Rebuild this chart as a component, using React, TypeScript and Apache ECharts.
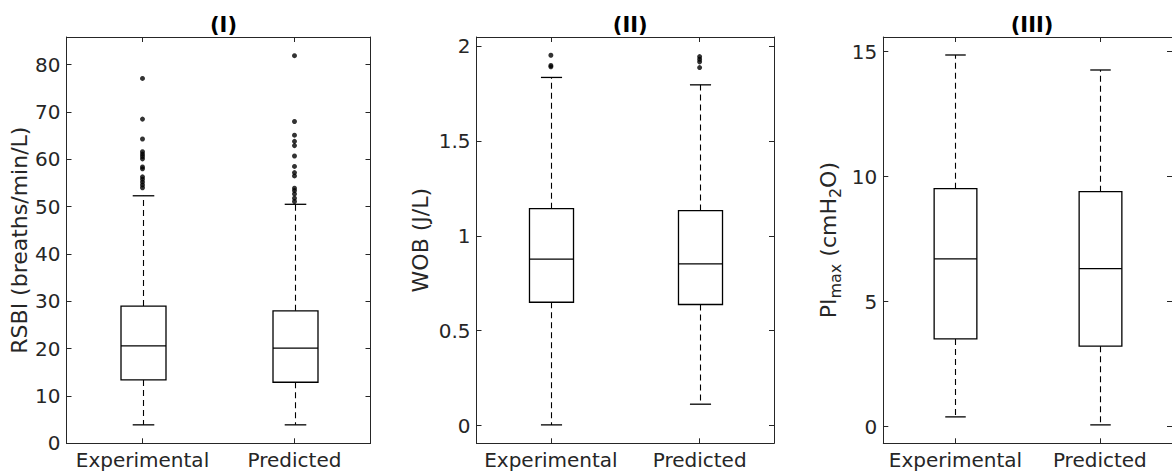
import React, { useEffect, useRef } from 'react';
import * as echarts from 'echarts';

const categories = ['Experimental', 'Predicted'];
const panelTitles = ['(I)', '(II)', '(III)'];

// each box: [lowerWhisker, Q1, median, Q3, upperWhisker]
const rsbiBoxes = [
  [3.9, 13.4, 20.6, 29.0, 52.3],
  [3.9, 12.9, 20.1, 28.0, 50.5],
];
const rsbiOutliersExp = [77.1, 68.5, 64.3, 61.6, 61.1, 60.6, 60.1, 58.4, 58.0, 56.3, 55.8, 55.2, 54.6, 54.0];
const rsbiOutliersPred = [81.9, 68.0, 65.1, 63.8, 62.9, 60.7, 58.5, 57.2, 56.5, 53.9, 53.4, 52.7, 51.8, 51.1];

const wobBoxes = [
  [0.004, 0.65, 0.877, 1.143, 1.834],
  [0.113, 0.638, 0.852, 1.133, 1.795],
];
const wobOutliersExp = [1.951, 1.897, 1.89];
const wobOutliersPred = [1.944, 1.93, 1.916, 1.886];

const pimaxBoxes = [
  [0.39, 3.51, 6.71, 9.52, 14.87],
  [0.07, 3.22, 6.32, 9.4, 14.27],
];
const pimaxOutliersExp: number[] = [];
const pimaxOutliersPred: number[] = [];

const rsbiTicks = [0, 10, 20, 30, 40, 50, 60, 70, 80];
const wobTicks = [0, 0.5, 1, 1.5, 2];
const pimaxTicks = [0, 5, 10, 15];

const FONT = 'DejaVu Sans';
const AX = '#262626';

const panels = [
  {
    boxes: rsbiBoxes, outExp: rsbiOutliersExp, outPred: rsbiOutliersPred, ticks: rsbiTicks,
    min: 0, max: 85.85, left: 66.5, width: 304, name: 'RSBI (breaths/min/L)', nameGap: 36,
  },
  {
    boxes: wobBoxes, outExp: wobOutliersExp, outPred: wobOutliersPred, ticks: wobTicks,
    min: -0.093, max: 2.047, left: 476.5, width: 297.5, name: 'WOB (J/L)', nameGap: 45,
  },
  {
    boxes: pimaxBoxes, outExp: pimaxOutliersExp, outPred: pimaxOutliersPred, ticks: pimaxTicks,
    min: -0.667, max: 15.59, left: 883.3, width: 291.5,
    name: '{a|PI}{s|max}{a| (cmH}{s|2}{a|O)}', nameGap: 40,
  },
];

const TOP = 37;
const HEIGHT = 406.3;

function renderBox(params: any, api: any) {
  const ci = api.value(0);
  const lo = api.coord([ci, api.value(1)]);
  const q1 = api.coord([ci, api.value(2)]);
  const med = api.coord([ci, api.value(3)]);
  const q3 = api.coord([ci, api.value(4)]);
  const hi = api.coord([ci, api.value(5)]);
  const band = api.size([1, 0])[0];
  const bw = band * 0.296;
  const cw = band * 0.142;
  const x = Math.round(lo[0]) + 0.5;
  const dash = { stroke: '#000', lineWidth: 1.1, lineDash: [6, 4] };
  const solid = { stroke: '#000', lineWidth: 1.3 };
  return {
    type: 'group',
    children: [
      { type: 'line', shape: { x1: x, y1: q3[1], x2: x, y2: hi[1] }, style: dash },
      { type: 'line', shape: { x1: x, y1: q1[1], x2: x, y2: lo[1] }, style: dash },
      { type: 'line', shape: { x1: x - cw / 2, y1: hi[1], x2: x + cw / 2, y2: hi[1] }, style: solid },
      { type: 'line', shape: { x1: x - cw / 2, y1: lo[1], x2: x + cw / 2, y2: lo[1] }, style: solid },
      {
        type: 'rect',
        shape: { x: x - bw / 2, y: q3[1], width: bw, height: q1[1] - q3[1] },
        style: { fill: 'none', stroke: '#000', lineWidth: 1.3 },
      },
      { type: 'line', shape: { x1: x - bw / 2, y1: med[1], x2: x + bw / 2, y2: med[1] }, style: solid },
    ],
  };
}

export default function App() {
  const ref = useRef<HTMLDivElement>(null);
  useEffect(() => {
    if (!ref.current) return;
    const chart = echarts.init(ref.current, null, { renderer: 'svg' });
    const grid: any[] = [];
    const xAxis: any[] = [];
    const yAxis: any[] = [];
    const series: any[] = [];
    const title: any[] = [];
    panels.forEach((p, i) => {
      grid.push({ left: p.left, top: TOP, width: p.width, height: HEIGHT, containLabel: false });
      title.push({
        text: panelTitles[i],
        left: p.left + p.width / 2 - (i === 2 ? 2 : 0),
        top: 9,
        textAlign: 'center',
        textStyle: { fontFamily: FONT, fontSize: 21, fontWeight: 'bold', color: '#000' },
      });
      const tickStyle = { lineStyle: { color: AX, width: 1 } };
      xAxis.push({
        type: 'category', gridIndex: i, data: categories, position: 'bottom', boundaryGap: true,
        axisLine: { show: true, onZero: false, lineStyle: { color: AX, width: 1 } },
        axisTick: { show: true, inside: true, alignWithLabel: true, length: 5, ...tickStyle },
        axisLabel: { color: AX, fontFamily: FONT, fontSize: 20, margin: 7, interval: 0, hideOverlap: false },
        splitLine: { show: false },
      });
      xAxis.push({
        type: 'category', gridIndex: i, data: categories, position: 'top', boundaryGap: true,
        axisLine: { show: true, onZero: false, lineStyle: { color: AX, width: 1 } },
        axisTick: { show: true, inside: true, alignWithLabel: true, length: 5, ...tickStyle },
        axisLabel: { show: false },
        splitLine: { show: false },
      });
      const rich = {
        a: { fontFamily: FONT, fontSize: 22, color: AX, lineHeight: 30, verticalAlign: 'middle' },
        s: { fontFamily: FONT, fontSize: 16, color: AX, lineHeight: 16, verticalAlign: 'bottom' },
      };
      yAxis.push({
        type: 'value', gridIndex: i, min: p.min, max: p.max, position: 'left',
        name: p.name, nameLocation: 'middle', nameGap: p.nameGap, nameRotate: 90,
        nameTextStyle: { fontFamily: FONT, fontSize: 22, color: AX, rich },
        axisLine: { show: true, onZero: false, lineStyle: { color: AX, width: 1 } },
        axisTick: { show: true, inside: true, length: 5, customValues: p.ticks, ...tickStyle },
        axisLabel: { color: AX, fontFamily: FONT, fontSize: 20, margin: 6, customValues: p.ticks },
        splitLine: { show: false },
      });
      yAxis.push({
        type: 'value', gridIndex: i, min: p.min, max: p.max, position: 'right',
        axisLine: { show: true, onZero: false, lineStyle: { color: AX, width: 1 } },
        axisTick: { show: true, inside: true, length: 5, customValues: p.ticks, ...tickStyle },
        axisLabel: { show: false, customValues: p.ticks },
        splitLine: { show: false },
      });
      series.push({
        type: 'custom', xAxisIndex: 2 * i, yAxisIndex: 2 * i,
        renderItem: renderBox,
        encode: { x: 0, y: [1, 2, 3, 4, 5] },
        data: p.boxes.map((b, k) => [k, ...b]),
        clip: false,
      });
      series.push({
        type: 'scatter', xAxisIndex: 2 * i, yAxisIndex: 2 * i,
        symbol: 'circle', symbolSize: 5,
        itemStyle: { color: '#000' },
        data: [
          ...p.outExp.map((v) => [0, v]),
          ...p.outPred.map((v) => [1, v]),
        ],
      });
    });
    chart.setOption({
      animation: false,
      backgroundColor: '#fff',
      title, grid, xAxis, yAxis, series,
    });
    return () => chart.dispose();
  }, []);
  return (
    <div
      ref={ref}
      style={{ position: 'fixed', left: 0, top: 0, width: 1172, height: 474, background: '#fff' }}
    />
  );
}
